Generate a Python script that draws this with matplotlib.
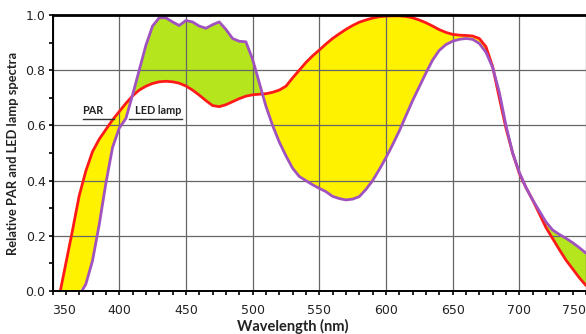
import numpy as np
import matplotlib
matplotlib.use("Agg")
import matplotlib.pyplot as plt
from matplotlib.ticker import MultipleLocator

# wavelength grid (nm) and read-off spectra
wavelength = list(range(350, 755, 5))

par = [-0.15, -0.02, 0.10, 0.22, 0.345, 0.435, 0.505, 0.55, 0.585, 0.62,
       0.65, 0.68, 0.707, 0.728, 0.742, 0.752, 0.758, 0.76, 0.758, 0.753,
       0.743, 0.728, 0.71, 0.69, 0.672, 0.668, 0.675, 0.686, 0.697, 0.706,
       0.711, 0.713, 0.715, 0.72, 0.728, 0.742, 0.772, 0.80, 0.828, 0.852,
       0.873, 0.895, 0.915, 0.932, 0.948, 0.962, 0.974, 0.982, 0.989, 0.994,
       0.996, 0.997, 0.997, 0.995, 0.99, 0.982, 0.972, 0.96, 0.947, 0.937,
       0.93, 0.927, 0.926, 0.924, 0.915, 0.885, 0.813, 0.70, 0.59, 0.50,
       0.426, 0.375, 0.33, 0.28, 0.23, 0.19, 0.15, 0.112, 0.08, 0.048,
       0.02]

led = [0.0, 0.0, 0.0, 0.0, 0.0, 0.025, 0.11, 0.24, 0.39, 0.52,
       0.59, 0.625, 0.71, 0.80, 0.89, 0.96, 0.99, 0.99, 0.975, 0.962,
       0.98, 0.975, 0.96, 0.952, 0.965, 0.975, 0.948, 0.915, 0.905, 0.903,
       0.84, 0.755, 0.67, 0.60, 0.54, 0.49, 0.445, 0.415, 0.40, 0.385,
       0.372, 0.36, 0.343, 0.335, 0.33, 0.333, 0.342, 0.368, 0.40, 0.44,
       0.483, 0.53, 0.58, 0.635, 0.69, 0.74, 0.79, 0.837, 0.872, 0.893,
       0.905, 0.912, 0.915, 0.912, 0.897, 0.865, 0.81, 0.72, 0.60, 0.50,
       0.43, 0.375, 0.33, 0.29, 0.25, 0.221, 0.205, 0.191, 0.175, 0.157,
       0.137]

led_start = 372  # LED curve leaves the axis here

x_ticks = [350, 400, 450, 500, 550, 600, 650, 700, 750]
y_ticks = [0.0, 0.2, 0.4, 0.6, 0.8, 1.0]

wl = np.array(wavelength, dtype=float)
p = np.array(par)
l = np.array(led)

fig = plt.figure(figsize=(5.86, 3.34), dpi=100)
ax = fig.add_axes([0.0896, 0.1287, 0.9104, 0.8263])

yellow = "#fff200"
green = "#b5e61d"
red = "#ff1a1a"
purple = "#a052c0"

ax.fill_between(wl, p, l, where=p >= l, interpolate=True, color=yellow, lw=0, zorder=1)
ax.fill_between(wl, p, l, where=p < l, interpolate=True, color=green, lw=0, zorder=1)

ax.plot(wl, p, color=red, lw=2.0, zorder=3, solid_capstyle="round")
m = wl >= 375
ax.plot(np.r_[led_start, wl[m]], np.r_[0.0, l[m]], color=purple, lw=2.0, zorder=4,
        solid_capstyle="round")

ax.set_xlim(350, 750)
ax.set_ylim(0, 1.0)
ax.set_xticks(x_ticks)
ax.set_yticks(y_ticks)
ax.xaxis.set_minor_locator(MultipleLocator(10))
ax.yaxis.set_minor_locator(MultipleLocator(0.1))
ax.set_yticklabels(["%.1f" % v for v in y_ticks])

ax.set_axisbelow(False)
ax.grid(True, which="major", color="#666666", lw=0.9, zorder=2)

for s in ["left", "bottom"]:
    ax.spines[s].set_color("black")
    ax.spines[s].set_linewidth(1.4)
ax.spines["top"].set_color("black")
ax.spines["top"].set_linewidth(2.0)
ax.spines["right"].set_visible(False)
for s in ax.spines.values():
    s.set_zorder(5)

ax.tick_params(which="both", direction="out", color="black", width=1.2)
ax.tick_params(which="major", length=3, labelsize=9, labelcolor="#222222")
ax.tick_params(axis="x", which="major", pad=6)
ax.tick_params(axis="y", which="major", pad=2)
ax.tick_params(which="minor", length=3)

fig.canvas.draw()
xl = ax.get_xticklabels()
xl[0].set_ha("left")
xl[-1].set_ha("right")

ax.set_ylabel("Relative PAR and LED lamp spectra", family=["Lato", "DejaVu Sans"],
              fontsize=9.3, fontweight="bold", color="#222222", labelpad=5)
ax.text(530, -0.1, "Wavelength (nm)", family=["Lato", "DejaVu Sans"], fontsize=10.5,
        fontweight="bold", color="#222222", ha="center", va="top",
        transform=ax.get_xaxis_transform())

# labels with leader lines
ax.text(372, 0.633, "PAR", family=["Lato", "DejaVu Sans"], fontsize=7.8,
        fontweight="bold", color="#222222", va="bottom")
ax.plot([373, 396], [0.623, 0.623], color="#333333", lw=1.0, zorder=4)
ax.text(412, 0.633, "LED lamp", family=["Lato", "DejaVu Sans"], fontsize=7.8,
        fontweight="bold", color="#222222", va="bottom")
ax.plot([407, 447], [0.623, 0.623], color="#333333", lw=1.0, zorder=4)

fig.savefig("out.png", dpi=100)
